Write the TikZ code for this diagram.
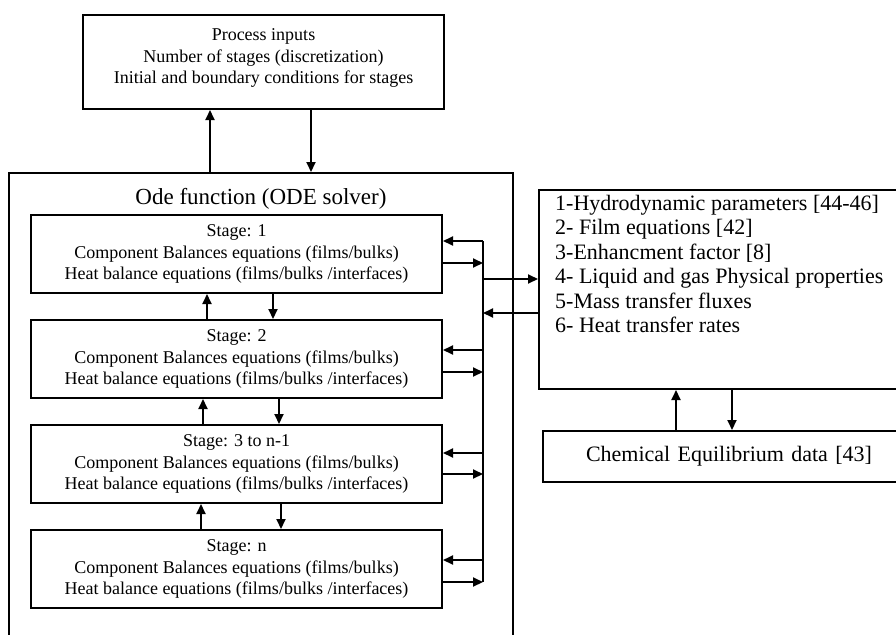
\documentclass[tikz,border=0pt]{standalone}
\usepackage{fontspec}
\setmainfont{Liberation Serif}
\usepackage{tikz}
\usetikzlibrary{positioning, arrows.meta}
\newcommand{\stagetext}[1]{Stage: #1\\Component Balances equations (films/bulks)\\Heat balance equations (films/bulks /interfaces)}

\begin{document}
\begin{tikzpicture}[x=1pt, y=-1pt, node distance=105pt,
		box/.style={draw, line width=2pt, inner sep=0pt},
		stagebox/.style={box, minimum width=411pt, minimum height=78pt, align=center, font={\fontsize{18}{21.5}\selectfont}},
		big/.style={font={\fontsize{22}{24.4}\selectfont}},
		arr/.style={line width=2pt, -{Triangle[length=10pt, width=9pt]}}]
			\useasboundingbox (0,0) rectangle (896,634);
			\clip (0,0) rectangle (896,634);
			% Process inputs box
			\node (inputs) [box, minimum width=361pt, minimum height=94pt] at (263.5,62) {};
			\node (inputstext) [align=center, font={\fontsize{18}{21.7}\selectfont}] at ([yshift=4pt]inputs.center) {Process inputs\\Number of stages (discretization)\\Initial and boundary conditions for stages};
			% Ode function box (runs off the bottom)
			\node (ode) [box, minimum width=504pt, minimum height=480pt] at (261,413) {};
			\node (odetitle) [font={\fontsize{23}{27}\selectfont}] at ([yshift=-27pt]ode.north) {Ode function (ODE solver)};
			% Stages
			\node (S1) [stagebox] at (236.5,254) {\stagetext{1}};
			\node (S2) [stagebox, below of=S1] {\stagetext{2}};
			\node (S3) [stagebox, below of=S2] {\stagetext{3 to n-1}};
			\node (Sn) [stagebox, below of=S3] {\stagetext{n}};
			% Boxes on the right
			\node (models) [box, anchor=north west, minimum width=370pt, minimum height=199pt] at (538,189) {};
			\node (modeltext) [anchor=north west, align=left, inner sep=0pt, big] at ([xshift=17pt, yshift=-6pt]models.north west) {1-Hydrodynamic parameters [44-46]\\2- Film equations [42]\\3-Enhancment factor [8]\\4- Liquid and gas Physical properties\\5-Mass transfer fluxes\\6- Heat transfer rates};
			\node (chem) [box, anchor=north west, minimum width=380pt, minimum height=51pt, big, text width=300pt, align=left, inner xsep=43pt] at (542,430) {Chemical Equilibrium data [43]};
			% Arrows between inputs and ode
			\draw[arr] ([xshift=-51pt]ode.north) -- ([xshift=-51pt]ode.north |- inputs.south);
			\draw[arr] ([xshift=50pt]ode.north |- inputs.south) -- ([xshift=50pt]ode.north);
			% Arrows between stages
			\foreach \a/\b/\u/\d in {S1/S2/-29.5/36.5, S2/S3/-33.5/42.5, S3/Sn/-35.5/44.5} {
				\draw[arr] ([xshift=\u pt]\b.north) -- ([xshift=\u pt]\b.north |- \a.south);
				\draw[arr] ([xshift=\d pt]\a.south) -- ([xshift=\d pt]\a.south |- \b.north);
			}
			% Bus on the right of the stages
			\coordinate (bus) at (483,241);
			\coordinate (busend) at (483,582);
			\draw[line width=2pt] (bus) -- (busend);
			\foreach \s/\l/\r in {S1/13/-9, S2/9/-13, S3/11/-10, Sn/9/-13} {
				\draw[arr] ([yshift=\l pt]\s.east -| bus) -- ([yshift=\l pt]\s.east);
				\draw[arr] ([yshift=\r pt]\s.east) -- ([yshift=\r pt]\s.east -| bus);
			}
			% Arrows to the models box
			\draw[arr] ([yshift=10.5pt]models.west -| bus) -- ([yshift=10.5pt]models.west);
			\draw[arr] ([yshift=-23.5pt]models.west) -- ([yshift=-23.5pt]models.west -| bus);
			% Arrows to equilibrium data
			\draw[arr] ([xshift=-60pt]chem.north) -- ([xshift=-60pt]chem.north |- models.south);
			\draw[arr] ([xshift=-4pt]chem.north |- models.south) -- ([xshift=-4pt]chem.north);
		\end{tikzpicture}
\end{document}
